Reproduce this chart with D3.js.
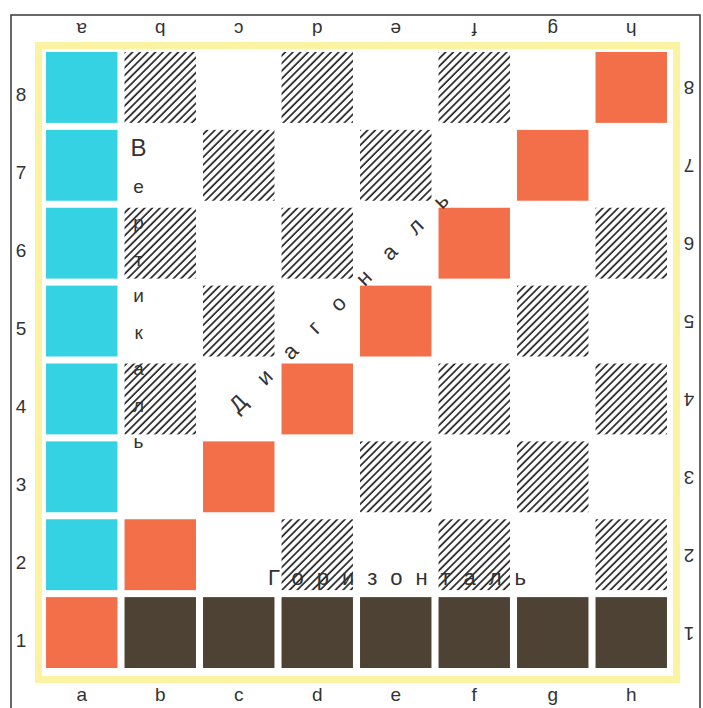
<!DOCTYPE html>
<html>
<head>
<meta charset="utf-8">
<script src="https://cdn.jsdelivr.net/npm/d3@7"></script>
<style>
  body { margin: 0; background: #fff; }
  text { font-family: "Liberation Sans", Arial, sans-serif; fill: #333; }
</style>
</head>
<body>
<div id="board"></div>
<script>
    var width = 703;
    var height = 708;

    // board data
    var files = ["a", "b", "c", "d", "e", "f", "g", "h"];
    var ranks = [8, 7, 6, 5, 4, 3, 2, 1];
    var verticalSquares = ["a2", "a3", "a4", "a5", "a6", "a7", "a8"];
    var diagonalSquares = ["a1", "b2", "c3", "d4", "e5", "f6", "g7", "h8"];
    var horizontalSquares = ["b1", "c1", "d1", "e1", "f1", "g1", "h1"];
    var words = ["Вертикаль", "Диагональ", "Горизонталь"];

    var x = d3.scaleBand().domain(files).range([42.5, 670.5]).paddingInner(0.09).paddingOuter(0.045);
    var y = d3.scaleBand().domain(ranks).range([48.5, 671.5]).paddingInner(0.09).paddingOuter(0.045);

    var svg = d3.select("#board")
                .append("svg")
                .attr("width", width)
                .attr("height", height);

    // hatch pattern for the dark squares
    var pat = svg.append("defs").append("pattern")
       .attr("id", "hatch")
       .attr("patternUnits", "userSpaceOnUse")
       .attr("width", 5.4).attr("height", 5.4)
       .attr("patternTransform", "rotate(45)");
    pat.append("line")
       .attr("x1", 1).attr("y1", 0).attr("x2", 1).attr("y2", 5.4)
       .attr("stroke", "#222").attr("stroke-width", 1.7);

    // outer frame
    svg.append("rect")
       .attr("x", 11).attr("y", 15).attr("width", 689).attr("height", 700)
       .attr("fill", "none").attr("stroke", "#444").attr("stroke-width", 1.6);

    // yellow board edge
    svg.append("rect")
       .attr("x", 38.5).attr("y", 45.5).attr("width", 638).attr("height", 634)
       .attr("fill", "#fff").attr("stroke", "#fcf3a2").attr("stroke-width", 7);

    var squares = [];
    files.forEach(function(f, i) {
       ranks.forEach(function(r) {
          var id = f + r;
          var fill = null;
          if (verticalSquares.indexOf(id) >= 0) fill = "#34d2e2";
          else if (diagonalSquares.indexOf(id) >= 0) fill = "#f36f49";
          else if (horizontalSquares.indexOf(id) >= 0) fill = "#4e4234";
          else if ((i + 1 + r) % 2 === 0) fill = "url(#hatch)";
          if (fill) squares.push({f: f, r: r, fill: fill});
       });
    });

    svg.selectAll("rect.sq")
       .data(squares)
       .enter().append("rect")
       .attr("class", "sq")
       .attr("x", function(d) { return x(d.f); })
       .attr("y", function(d) { return y(d.r); })
       .attr("width", x.bandwidth())
       .attr("height", y.bandwidth())
       .attr("fill", function(d) { return d.fill; });

    // coordinate labels
    files.forEach(function(f) {
       var cx = x(f) + x.bandwidth() / 2;
       svg.append("text").attr("x", cx).attr("y", 701)
          .attr("text-anchor", "middle").attr("font-size", 19).text(f);
       svg.append("text").attr("text-anchor", "middle").attr("font-size", 19)
          .attr("transform", "translate(" + cx + ",23) rotate(180)").text(f);
    });
    ranks.forEach(function(r) {
       var cy = y(r) + y.bandwidth() / 2;
       svg.append("text").attr("x", 21).attr("y", cy + 14)
          .attr("text-anchor", "middle").attr("font-size", 19).text(r);
       svg.append("text").attr("text-anchor", "middle").attr("font-size", 19)
          .attr("transform", "translate(689," + (cy - 6) + ") rotate(180)").text(r);
    });

    // Вертикаль down column b
    var vx = x("b") + 14;
    words[0].split("").forEach(function(ch, i) {
       svg.append("text")
          .attr("x", vx).attr("y", 156 + i * 36.5)
          .attr("text-anchor", "middle")
          .attr("font-size", i === 0 ? 24 : 19)
          .text(ch);
    });

    // Диагональ along the long diagonal
    svg.append("text")
       .attr("transform", "translate(344,308) rotate(-45)")
       .attr("text-anchor", "middle")
       .attr("font-size", 22)
       .attr("textLength", 300).attr("lengthAdjust", "spacing")
       .text(words[1]);

    // Горизонталь above rank 1
    svg.append("text")
       .attr("x", 268).attr("y", 585)
       .attr("font-size", 22)
       .attr("textLength", 258).attr("lengthAdjust", "spacing")
       .text(words[2]);
</script>
</body>
</html>
